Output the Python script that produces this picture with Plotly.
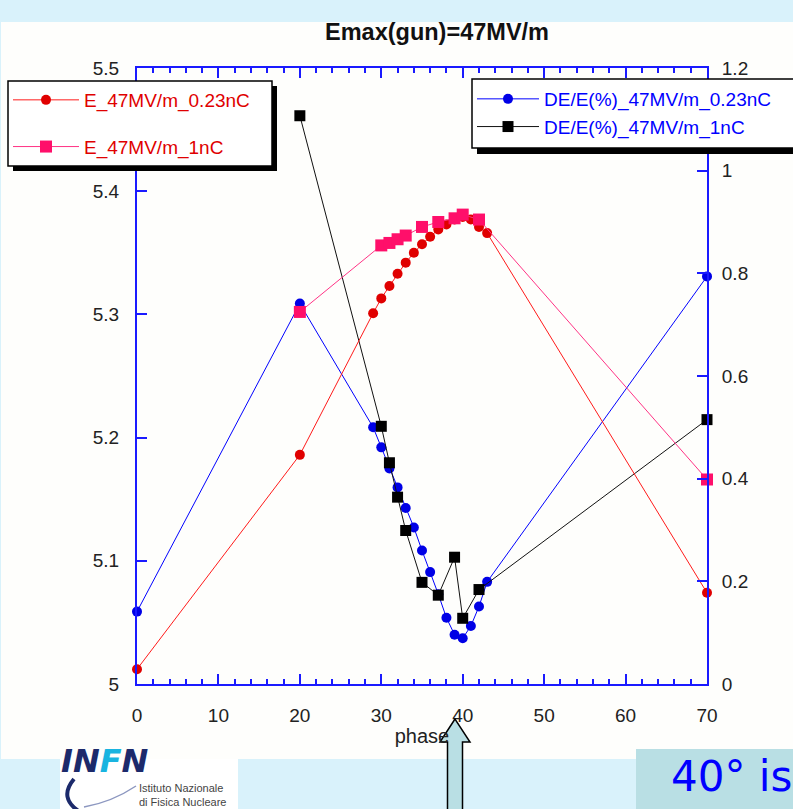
import plotly.graph_objects as go

# ---------------- data ----------------
phase_red = [0, 20, 29, 30, 31, 32, 33, 34, 35, 36, 37, 38, 39, 40, 41, 42, 43, 70]
e_023nC = [5.012, 5.186, 5.301, 5.313, 5.323, 5.333, 5.342, 5.350, 5.357, 5.363,
           5.369, 5.373, 5.377, 5.379, 5.377, 5.371, 5.366, 5.074]

phase_pink = [20, 30, 31, 32, 33, 35, 37, 39, 40, 42, 70]
e_1nC = [5.302, 5.356, 5.358, 5.361, 5.364, 5.371, 5.375, 5.378, 5.381, 5.377, 5.166]

phase_blue = [0, 20, 29, 30, 31, 32, 33, 34, 35, 36, 37, 38, 39, 40, 41, 42, 43, 70]
de_023nC = [0.141, 0.741, 0.500, 0.461, 0.420, 0.383, 0.343, 0.305, 0.260, 0.218,
            0.175, 0.129, 0.096, 0.089, 0.113, 0.151, 0.199, 0.794]

phase_black = [20, 30, 31, 32, 33, 35, 37, 39, 40, 42, 70]
de_1nC = [1.107, 0.502, 0.431, 0.364, 0.299, 0.198, 0.173, 0.247, 0.128, 0.184, 0.515]

title_text = "Emax(gun)=47MV/m"
x_title = "phase"

# ---------------- layout geometry ----------------
W, H = 793, 809
ML, MR, MT, MB = 137, 86, 68, 125
PW, PH = W - ML - MR, H - MT - MB


def px(x):
    return (x - ML) / PW


def py(y):
    return (H - MB - y) / PH


FONT = "Liberation Sans, Arial, sans-serif"
AXIS_BLUE = "#1a1aff"

fig = go.Figure()

# right axis series (primary y) drawn first
fig.add_trace(go.Scatter(
    x=phase_blue, y=de_023nC, name="DE/E(%)_47MV/m_0.23nC", mode="lines+markers",
    line=dict(color="#0000ff", width=1), marker=dict(symbol="circle", size=10, color="#0000e6"),
    yaxis="y", legend="legend2", legendgroup="b1", cliponaxis=False))
fig.add_trace(go.Scatter(
    x=phase_black, y=de_1nC, name="DE/E(%)_47MV/m_1nC", mode="lines+markers",
    line=dict(color="#111111", width=1), marker=dict(symbol="square", size=11, color="#000000"),
    yaxis="y", legend="legend2", legendgroup="b2", cliponaxis=False))
# left axis series (overlay y2) drawn on top
fig.add_trace(go.Scatter(
    x=phase_red, y=e_023nC, name="E_47MV/m_0.23nC", mode="lines+markers",
    line=dict(color="#ff1a1a", width=1), marker=dict(symbol="circle", size=10, color="#e00000"),
    yaxis="y2", legend="legend", legendgroup="r1", cliponaxis=False))
fig.add_trace(go.Scatter(
    x=phase_pink, y=e_1nC, name="E_47MV/m_1nC", mode="lines+markers",
    line=dict(color="#ff3385", width=1), marker=dict(symbol="square", size=12, color="#ff0f6a"),
    yaxis="y2", legend="legend", legendgroup="r2", cliponaxis=False))

axis_common = dict(showgrid=False, zeroline=False, showline=True, linecolor=AXIS_BLUE,
                   linewidth=2, ticks="inside", tickcolor=AXIS_BLUE, tickwidth=1.5,
                   tickfont=dict(family=FONT, size=19, color="#222222"))


def rect(x0, y0, x1, y1, fill, line=None):
    return dict(type="rect", xref="paper", yref="paper", x0=px(x0), x1=px(x1),
                y0=py(y0), y1=py(y1), fillcolor=fill,
                line=line if line else dict(width=0), layer="above")


white_area = rect(1, 22, 800, 759, "#fefefc")
white_area["layer"] = "below"

shapes = [
    white_area,
    # legend boxes with drop shadows
    rect(13, 86, 277, 171, "#000000"),
    rect(8, 81, 272, 166, "#ffffff", dict(color="#000000", width=1.5)),
    rect(477, 85, 810, 154, "#000000"),
    rect(472, 79, 805, 148, "#ffffff", dict(color="#000000", width=1.5)),
    # INFN logo background
    rect(60, 759, 238, 815, "#ffffff"),
    dict(type="path", xref="paper", yref="paper",
         path="M %f,%f Q %f,%f %f,%f" % (px(74), py(779), px(58), py(798), px(80), py(812)),
         line=dict(color="#1c2a6b", width=4), layer="above"),
    dict(type="path", xref="paper", yref="paper",
         path="M %f,%f Q %f,%f %f,%f" % (px(84), py(807), px(112), py(802), px(136), py(786)),
         line=dict(color="#8c97c0", width=1.5), layer="above"),
    # "40° is" box
    rect(636, 749, 800, 815, "#b9dfe4"),
]
# arrow pointing at 40
arrow_pts = [(455, 719), (440, 742), (447.5, 742), (447.5, 815), (462.5, 815), (462.5, 742), (470, 742)]
path = "M " + " L ".join("%f,%f" % (px(a), py(b)) for a, b in arrow_pts) + " Z"
shapes.append(dict(type="path", xref="paper", yref="paper", path=path,
                   fillcolor="#b9dfe4", line=dict(color="#000000", width=1.5), layer="above"))

annotations = [
    dict(xref="paper", yref="paper", x=px(59), y=py(782), xanchor="left", yanchor="bottom",
         text="<b><i>IN<span style='color:#19b4e0'>F</span>N</i></b>", showarrow=False,
         font=dict(family="DejaVu Sans, sans-serif", size=32, color="#1c2a6b")),
    dict(xref="paper", yref="paper", x=px(137), y=py(795), xanchor="left", yanchor="middle",
         text="Istituto Nazionale<br>di Fisica Nucleare", showarrow=False, align="left",
         font=dict(family=FONT, size=11, color="#444444")),
    dict(xref="paper", yref="paper", x=px(669), y=py(776), xanchor="left", yanchor="middle",
         text="40° is", showarrow=False,
         font=dict(family="DejaVu Sans, sans-serif", size=42, color="#0000ff")),
]

fig.update_layout(
    width=W, height=H,
    margin=dict(l=ML, r=MR, t=MT, b=MB, autoexpand=False),
    paper_bgcolor="#d9f2fb", plot_bgcolor="rgba(0,0,0,0)",
    title=dict(text="<b>" + title_text + "</b>", x=437 / W, y=1 - 32 / H, xref="container",
               yref="container", xanchor="center", yanchor="middle",
               font=dict(family=FONT, size=23.5, color="#111111")),
    xaxis=dict(range=[0, 70], dtick=10, ticklen=10, mirror="ticks",
               minor=dict(dtick=2, ticklen=5, ticks="inside", tickcolor=AXIS_BLUE, tickwidth=1.5),
               ticklabelstandoff=13,
               title=dict(text=x_title, font=dict(family=FONT, size=20, color="#222222"), standoff=4),
               **axis_common),
    yaxis=dict(range=[0, 1.2], dtick=0.2, side="right", ticklen=10, ticklabelstandoff=9,
               **axis_common),
    yaxis2=dict(range=[5, 5.5], dtick=0.1, side="left", overlaying="y", ticklen=10,
                ticklabelstandoff=12, **axis_common),
    legend=dict(xref="container", yref="container", x=8 / W, y=1 - 81 / H,
                xanchor="left", yanchor="top", bgcolor="rgba(0,0,0,0)", borderwidth=0,
                font=dict(family=FONT, size=19, color="#e00000"),
                itemwidth=66, tracegroupgap=19, traceorder="grouped"),
    legend2=dict(xref="container", yref="container", x=472 / W, y=1 - 80 / H,
                 xanchor="left", yanchor="top", bgcolor="rgba(0,0,0,0)", borderwidth=0,
                 font=dict(family=FONT, size=19, color="#0000ff"),
                 itemwidth=62, tracegroupgap=0, traceorder="grouped"),
    shapes=shapes,
    annotations=annotations,
    showlegend=True,
)

fig.write_html("out.html")
